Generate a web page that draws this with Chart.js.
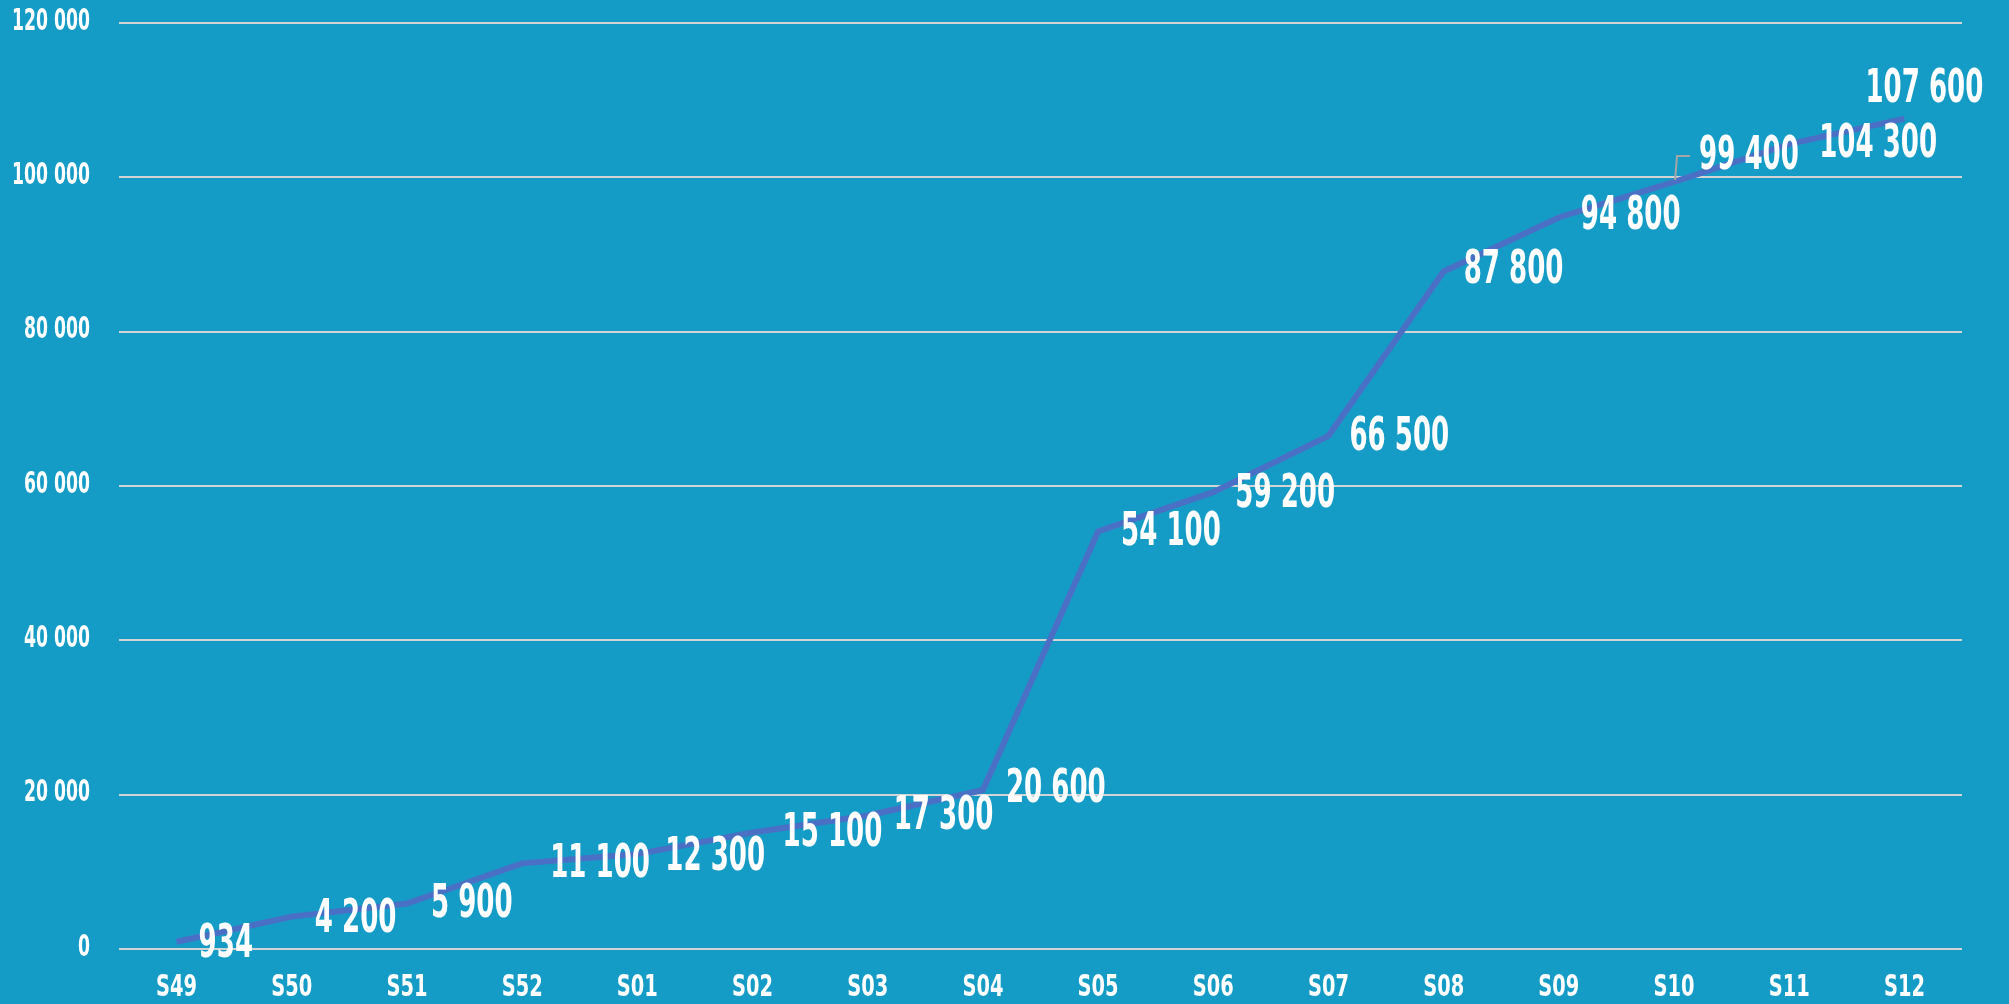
<!DOCTYPE html>
<html>
<head>
<meta charset="utf-8">
<script src="https://cdn.jsdelivr.net/npm/chart.js@4"></script>
<style>
  html, body { margin: 0; padding: 0; background: #159cc6; }
  #wrap { width: 2009px; height: 1004px; }
</style>
</head>
<body>
<div id="wrap"><canvas id="weekChart"></canvas></div>
<script>
var weeks = ["S49", "S50", "S51", "S52", "S01", "S02", "S03", "S04",
             "S05", "S06", "S07", "S08", "S09", "S10", "S11", "S12"];
var totals = [934, 4200, 5900, 11100, 12300, 15100, 17300, 20600,
              54100, 59200, 66500, 87800, 94800, 99400, 104300, 107600];
var yTicks = [0, 20000, 40000, 60000, 80000, 100000, 120000];

// label nudges (dx, dy) relative to each point, like the hand-placed excel labels
var labelShift = [[22, 3], [23, 3], [24, 2], [28, 2], [28, 4], [30, 2], [26, 2], [23, 0],
                  [23, 2], [22, 3], [21, 2], [20, 0], [22, 0], [25, -25], [30, 1], [-39, -29]];

var FONT = '"DejaVu Sans Condensed", "DejaVu Sans", sans-serif';

function spaced(v) {
  return String(v).replace(/\B(?=(\d{3})+(?!\d))/g, ' ');
}

// no condensed display face offline, so squash the text horizontally
function squashedText(ctx, text, x, y, align, squeeze) {
  ctx.save();
  ctx.translate(x, y);
  ctx.scale(squeeze, 1);
  ctx.textAlign = align;
  ctx.fillText(text, 0, 0);
  ctx.restore();
}

var axisText = {
  id: 'axisText',
  afterDraw: function(chart) {
    var ctx = chart.ctx;
    var xs = chart.scales.x, ys = chart.scales.y;
    ctx.save();
    ctx.fillStyle = '#ffffff';
    ctx.textBaseline = 'middle';
    ctx.font = 'bold 30px ' + FONT;
    ys.ticks.forEach(function(t) {
      squashedText(ctx, spaced(t.value), ys.right - 29, ys.getPixelForValue(t.value) - 1, 'right', 0.64);
    });
    ctx.font = 'bold 30px ' + FONT;
    xs.ticks.forEach(function(t, i) {
      squashedText(ctx, xs.getLabelForValue(t.value), xs.getPixelForTick(i), xs.top + 39, 'center', 0.72);
    });
    ctx.restore();
  }
};

var valueLabels = {
  id: 'valueLabels',
  afterDatasetsDraw: function(chart) {
    var ctx = chart.ctx;
    var meta = chart.getDatasetMeta(0);
    ctx.save();
    meta.data.forEach(function(pt, i) {
      var dx = labelShift[i][0], dy = labelShift[i][1];
      if (i === 13) {
        // little leader line for 99 400
        ctx.strokeStyle = '#a6a6a6';
        ctx.lineWidth = 2;
        ctx.beginPath();
        ctx.moveTo(pt.x + 1, pt.y - 2);
        ctx.lineTo(pt.x + 3, pt.y - 26);
        ctx.lineTo(pt.x + 16, pt.y - 26);
        ctx.stroke();
      }
      ctx.fillStyle = '#ffffff';
      ctx.font = 'bold 46px ' + FONT;
      ctx.textBaseline = 'middle';
      squashedText(ctx, spaced(totals[i]), pt.x + dx, pt.y + dy, 'left', 0.63);
    });
    ctx.restore();
  }
};

var ctx = document.getElementById("weekChart").getContext('2d');
var weekChart = new Chart(ctx, {
  type: 'line',
  data: {
    labels: weeks,
    datasets: [{
      data: totals,
      borderColor: "#4a70c6",
      borderWidth: 6,
      pointRadius: 0,
      tension: 0,
      fill: false
    }]
  },
  options: {
    responsive: true,
    maintainAspectRatio: false,
    animation: false,
    layout: { padding: { top: 23, right: 47, left: 0, bottom: 0 } },
    plugins: {
      legend: { display: false },
      tooltip: { enabled: false }
    },
    scales: {
      x: {
        offset: true,
        grid: { display: false, drawTicks: false },
        border: { display: false },
        ticks: { display: false },
        afterFit: function(axis) { axis.height = 55; }
      },
      y: {
        min: 0,
        max: 120000,
        afterBuildTicks: function(axis) {
          axis.ticks = yTicks.map(function(v) { return { value: v }; });
        },
        grid: { color: '#d4d4d4', lineWidth: 2, drawTicks: false },
        border: { display: false },
        ticks: { display: false },
        afterFit: function(axis) { axis.width = 119; }
      }
    }
  },
  plugins: [valueLabels, axisText]
});
</script>
</body>
</html>
